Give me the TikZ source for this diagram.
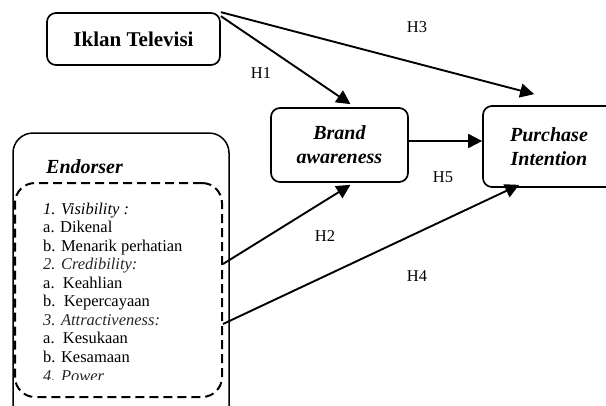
\documentclass[tikz,border=0pt]{standalone}
\usepackage{fontspec}
\setmainfont{Liberation Serif}
\usetikzlibrary{arrows.meta,calc}
\begin{document}
\begin{tikzpicture}[x=1pt,y=-1pt,
 box/.style={draw, line width=1.7pt, rounded corners=9pt, align=center, inner sep=0pt},
 conn/.style={line width=1.9pt, -{Triangle[length=14pt,width=14pt]}},
 hlab/.style={font=\fontsize{16.5}{18}\selectfont, inner sep=0pt},
 item/.style={anchor=base west, inner sep=0pt, font=\fontsize{16.5}{18}\selectfont},
 sub/.style={item, text=black!85},
]
\useasboundingbox (0,0) rectangle (606,405);
\clip (0,0) rectangle (606,405);
% boxes
\node[box, minimum width=173pt, minimum height=52pt, font=\fontsize{21}{24}\selectfont\bfseries] (iklan) at (133.5,39) {Iklan Televisi};
\node[box, minimum width=137pt, minimum height=74pt, font=\fontsize{20}{24}\selectfont\bfseries\itshape] (brand) at (339.5,145) {Brand\\awareness};
\node[box, minimum width=132pt, minimum height=81pt, font=\fontsize{20}{24}\selectfont\bfseries\itshape] (purchase) at (549,146.5) {Purchase\\Intention};
% endorser outer box
\draw[line width=1.5pt, rounded corners=20pt] (13,420) |- (229,133) -- (229,420);
\node[anchor=west, inner sep=0pt, font=\fontsize{20}{24}\selectfont\bfseries\itshape] (endlab) at (46,167) {Endorser};
\node[draw, line width=2pt, dash pattern=on 9pt off 5pt, rounded corners=20pt, minimum width=207pt, minimum height=214pt, inner sep=0pt] (endo) at (118.5,290) {};
% items
\node[item] (i1) at (43,214) {\itshape 1. Visibility :};
\node[item] (i2) at (43,232.5) {a. Dikenal};
\node[item] (i3) at (43,251) {b. Menarik perhatian};
\node[sub] (i4) at (43,269.5) {\itshape 2. Credibility:};
\node[item] (i5) at (43,288) {a.\ \ Keahlian};
\node[item] (i6) at (43,306.5) {b.\ \ Kepercayaan};
\node[sub] (i7) at (43,325) {\itshape 3. Attractiveness:};
\node[item] (i8) at (43,343.5) {a.\ \ Kesukaan};
\node[item] (i9) at (43,362) {b. Kesamaan};
\begin{scope}
\clip (0,0) rectangle (606,379);
\node[sub] (i10) at (43,381) {\itshape 4. Power};
\end{scope}
% connectors
\coordinate (b5) at ($(brand.east)+(0,-4)$);
\draw[conn] ($(iklan.north east)+(0,4)$) -- ($(brand.north)+(11,-3)$);
\draw[conn] (iklan.north east) -- ($(purchase.north west)+(52,-11)$);
\draw[conn] (b5) -- (b5 -| purchase.west);
\draw[conn] ($(endo.north east)+(0,82)$) -- ($(brand.south)+(11,2)$);
\draw[conn] ($(endo.north east)+(0,142)$) -- ($(purchase.south west)+(37,-3)$);
% labels
\node[hlab] (h1) at (261,73) {H1};
\node[hlab] (h3) at (417,27) {H3};
\node[hlab] (h5) at (443,177) {H5};
\node[hlab] (h2) at (325,236) {H2};
\node[hlab] (h4) at (417,276) {H4};
\end{tikzpicture}
\end{document}
